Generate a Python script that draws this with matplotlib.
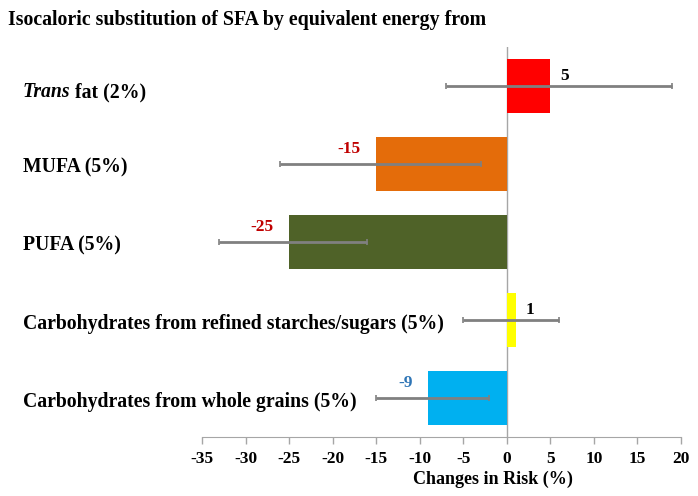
import matplotlib
matplotlib.use("Agg")
import matplotlib.pyplot as plt
from matplotlib.transforms import blended_transform_factory

# data
categories = ["Trans fat (2%)", "MUFA (5%)", "PUFA (5%)",
              "Carbohydrates from refined starches/sugars (5%)",
              "Carbohydrates from whole grains (5%)"]
values = [5, -15, -25, 1, -9]
ci_low = [-7, -26, -33, -5, -15]
ci_high = [19, -3, -16, 6, -2]
bar_colors = ["#FF0000", "#E46C0A", "#4F6228", "#FFFF00", "#00B0F0"]
label_colors = ["#000000", "#C00000", "#C00000", "#000000", "#2E75B6"]
xticks = list(range(-35, 21, 5))

plt.rcParams['font.family'] = ['Liberation Serif', 'DejaVu Serif']
plt.rcParams['font.weight'] = 'bold'

fig = plt.figure(figsize=(6.98, 4.96), dpi=100)
ax = fig.add_axes([0.2894, 0.119, 0.6862, 0.7862])

ypos = list(range(len(categories)))
ax.barh(ypos, values, height=0.69, color=bar_colors, zorder=2)

xerr = [[v - lo for v, lo in zip(values, ci_low)],
        [hi - v for v, hi in zip(values, ci_high)]]
ax.errorbar(values, ypos, xerr=xerr, fmt='none', ecolor='#808080',
            elinewidth=2, capsize=2, capthick=1.2, zorder=3)

ax.axvline(0, color='#A6A6A6', lw=1, zorder=1)

ax.set_xlim(-35, 20)
ax.set_ylim(4.5, -0.5)
ax.set_xticks(xticks)
ax.set_xticklabels([str(t) for t in xticks], fontsize=12.5, fontweight='bold')
ax.set_yticks([])
for s in ['left', 'right', 'top']:
    ax.spines[s].set_visible(False)
ax.spines['bottom'].set_color('#A6A6A6')
ax.tick_params(axis='x', colors='#A6A6A6', labelcolor='black', length=5, width=1, pad=5)

fig.text(493 / 698, 1 - 479 / 496, "Changes in Risk (%)", ha='center', va='center',
         fontsize=13, fontweight='bold')

# value labels
for y, v, c in zip(ypos, values, label_colors):
    if v >= 0:
        ax.annotate(str(v), (v, y), xytext=(7, 7), textcoords='offset points',
                    ha='left', va='center', color=c, fontsize=12.5, fontweight='bold')
    else:
        ax.annotate(str(v), (v, y), xytext=(-11, 11), textcoords='offset points',
                    ha='right', va='center', color=c, fontsize=12.5, fontweight='bold')

# category labels
tr = blended_transform_factory(fig.transFigure, ax.transData)
x0 = 23 / 698
for y, cat in zip(ypos, categories):
    if cat.startswith("Trans"):
        t1 = ax.text(x0, y + 0.08, "Trans", transform=tr, ha='left', va='center',
                     fontsize=14.2, fontstyle='italic', fontweight='bold')
        ax.annotate(" fat (2%)", xy=(1, 0), xycoords=t1, ha='left', va='bottom',
                    fontsize=14.2, fontweight='bold')
    else:
        ax.text(x0, y + 0.05, cat, transform=tr, ha='left', va='center',
                fontsize=14.2, fontweight='bold')

fig.text(8 / 698, 1 - 20 / 496, "Isocaloric substitution of SFA by equivalent energy from",
         ha='left', va='center', fontsize=14.3, fontweight='bold')

fig.savefig("out.png", dpi=100)
